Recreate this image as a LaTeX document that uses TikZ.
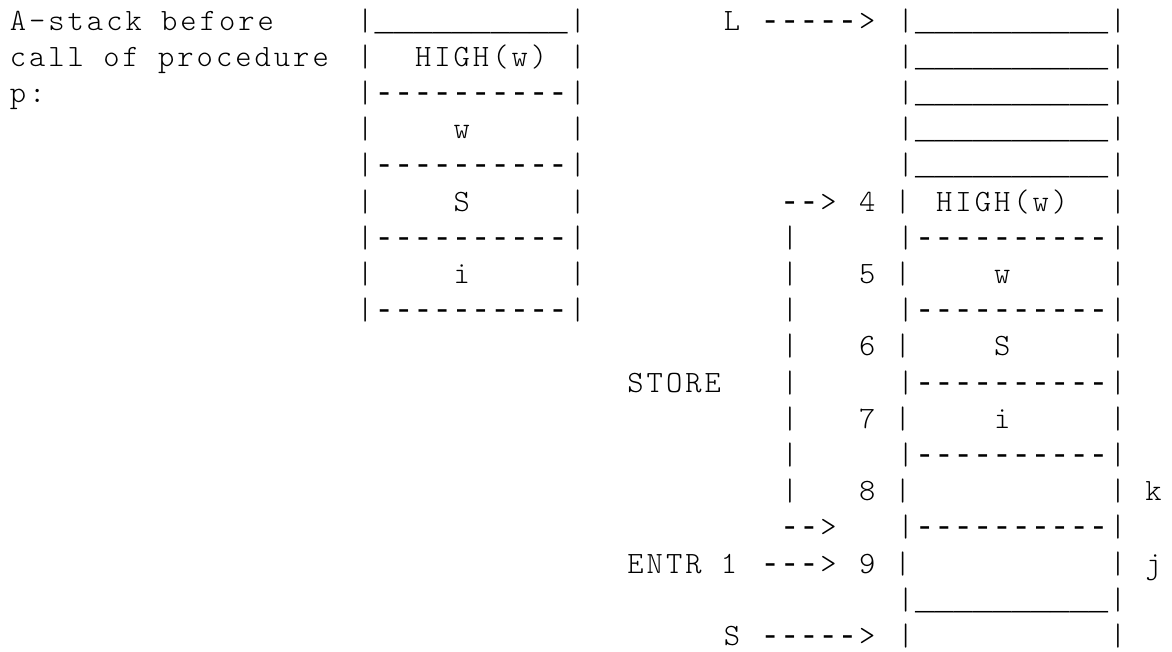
\documentclass[tikz,border=0pt]{standalone}
\usepackage{fontspec}
\newfontfamily\asciifont{lmmonolt10-regular.otf}[Ligatures=TeXOff, LetterSpace=9.76]
\newfontfamily\ulfont{Liberation Mono}[Ligatures=TeXOff]
% #1 name, #2 column, #3 row, #4 text
\newcommand\frag[4]{\node[asc] (#1) at ({9.8+19.3*(#2)},{-30-36.2*(#3)}) {#4};}
% a run of full-cell characters (underscores, dashes) starting at column #2
\newcommand\run[4]{\node[uls] (#1) at ({8+19.3*(#2)},{-30-36.2*(#3)}) {#4};}
% box rows with left bar at column #2
\newcommand\ubox[3]{\frag{#1a}{#2}{#3}{|}\run{#1u}{#2+1}{#3}{\_\_\_\_\_\_\_\_\_\_}\frag{#1b}{#2+11}{#3}{|}}
\newcommand\dbox[3]{\frag{#1a}{#2}{#3}{|}\run{#1d}{#2+1}{#3}{----------}\frag{#1b}{#2+11}{#3}{|}}
\begin{document}
\begin{tikzpicture}[x=1pt,y=1pt,
  asc/.style={anchor=base west, inner sep=0pt, outer sep=0pt,
    font=\asciifont\fontsize{31pt}{36pt}\selectfont},
  uls/.style={anchor=base west, inner sep=0pt, outer sep=0pt,
    font=\ulfont\fontsize{32.17pt}{36pt}\selectfont}]
\path[fill=white, use as bounding box] (0,0) rectangle (1172,-651);
% row 0
\frag{t0}{0}{0}{A-stack before}
\ubox{la0}{18}{0}
\frag{L}{37}{0}{L}
\run{Ld}{39}{0}{-----}
\frag{Lh}{44}{0}{>}
\ubox{ra0}{46}{0}
% row 1
\frag{t1}{0}{1}{call of procedure}
\frag{la1}{18}{1}{|}
\frag{lhigh}{21}{1}{HIGH(w)}
\frag{lc1}{29}{1}{|}
\ubox{ra1}{46}{1}
% row 2
\frag{t2}{0}{2}{p:}
\dbox{la2}{18}{2}
\ubox{ra2}{46}{2}
% row 3
\frag{la3}{18}{3}{|}
\frag{lw}{23}{3}{w}
\frag{lc3}{29}{3}{|}
\ubox{ra3}{46}{3}
% row 4
\dbox{la4}{18}{4}
\ubox{ra4}{46}{4}
% row 5
\frag{la5}{18}{5}{|}
\frag{lS}{23}{5}{S}
\frag{lc5}{29}{5}{|}
\run{a4d}{40}{5}{--}
\frag{a4h}{42}{5}{>}
\frag{n4}{44}{5}{4 |}
\frag{rhigh}{48}{5}{HIGH(w)}
\frag{rc5}{57}{5}{|}
% row 6
\dbox{la6}{18}{6}
\frag{st6}{40}{6}{|}
\dbox{ra6}{46}{6}
% row 7
\frag{la7}{18}{7}{|}
\frag{li}{23}{7}{i}
\frag{lc7}{29}{7}{|}
\frag{st7}{40}{7}{|}
\frag{n5}{44}{7}{5 |}
\frag{rw}{51}{7}{w}
\frag{rc7}{57}{7}{|}
% row 8
\dbox{la8}{18}{8}
\frag{st8}{40}{8}{|}
\dbox{ra8}{46}{8}
% row 9
\frag{st9}{40}{9}{|}
\frag{n6}{44}{9}{6 |}
\frag{rS}{51}{9}{S}
\frag{rc9}{57}{9}{|}
% row 10
\frag{store}{32}{10}{STORE}
\frag{st10}{40}{10}{|}
\dbox{ra10}{46}{10}
% row 11
\frag{st11}{40}{11}{|}
\frag{n7}{44}{11}{7 |}
\frag{ri}{51}{11}{i}
\frag{rc11}{57}{11}{|}
% row 12
\frag{st12}{40}{12}{|}
\dbox{ra12}{46}{12}
% row 13
\frag{st13}{40}{13}{|}
\frag{n8}{44}{13}{8 |}
\frag{k}{57}{13}{| k}
% row 14
\run{a9d}{40}{14}{--}
\frag{a9h}{42}{14}{>}
\dbox{ra14}{46}{14}
% row 15
\frag{entr}{32}{15}{ENTR 1}
\run{ed}{39}{15}{---}
\frag{eh}{42}{15}{>}
\frag{n9}{44}{15}{9 |}
\frag{j}{57}{15}{| j}
% row 16
\ubox{ra16}{46}{16}
% row 17
\frag{Sp}{37}{17}{S}
\run{Sd}{39}{17}{-----}
\frag{Sh}{44}{17}{>}
\frag{sb}{46}{17}{|}
\frag{rc17}{57}{17}{|}
\end{tikzpicture}
\end{document}
